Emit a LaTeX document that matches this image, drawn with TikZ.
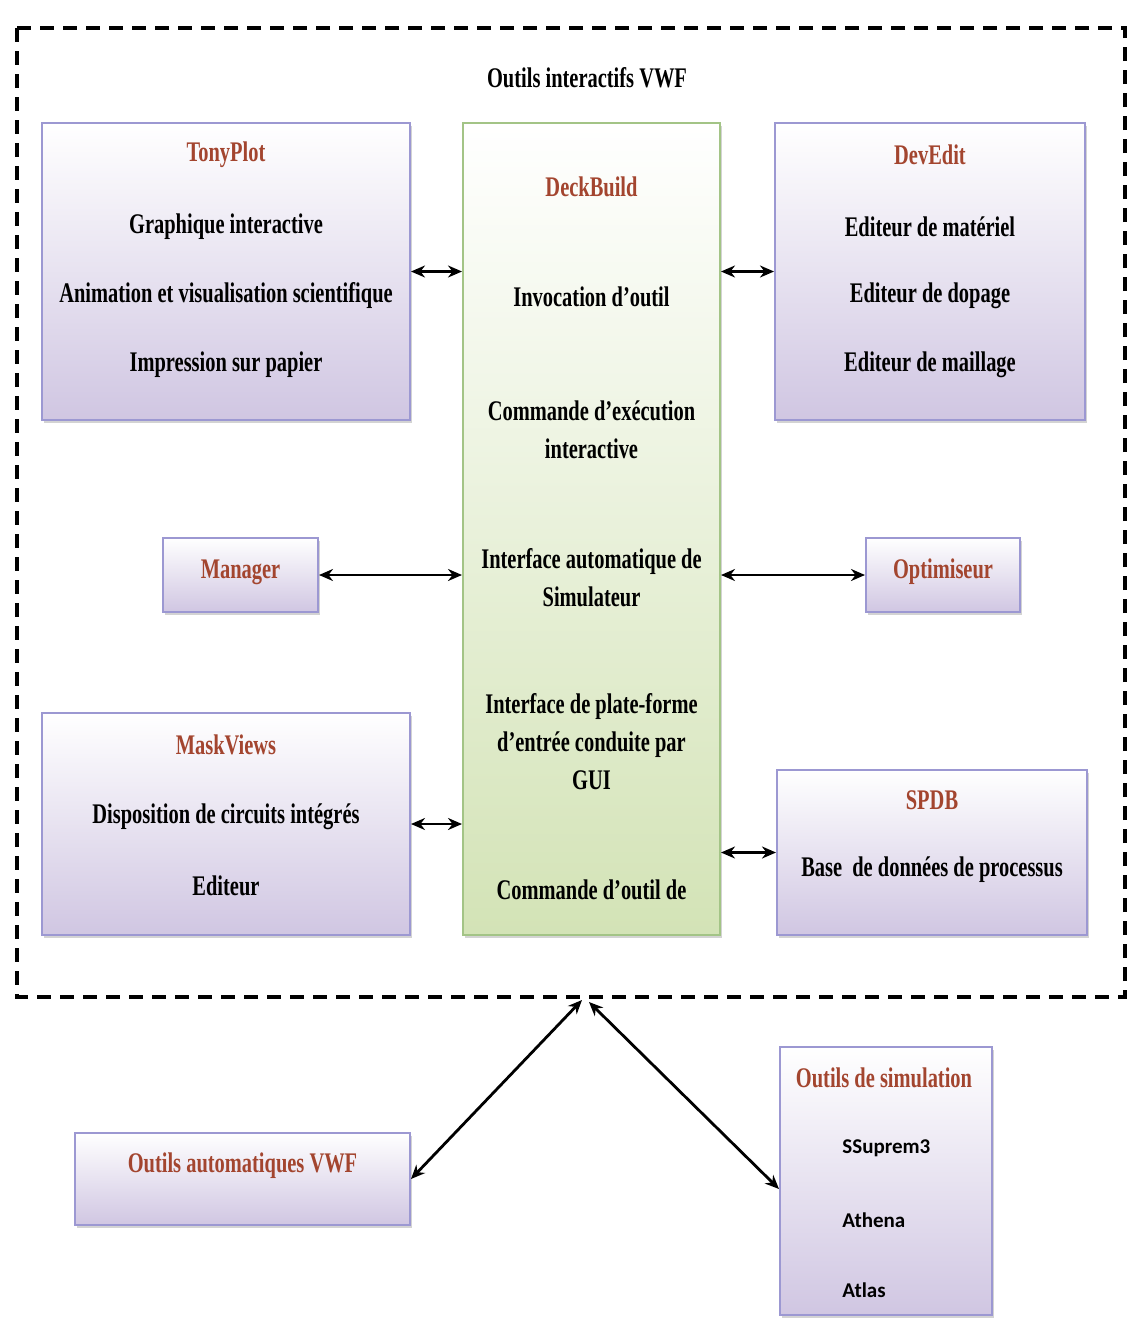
\documentclass[tikz,border=0pt]{standalone}
\usepackage{fontspec}
\setmainfont{Liberation Serif}
\newfontfamily\cond{Liberation Serif}[FakeStretch=0.72]
\newfontfamily\calib{Carlito}
\usetikzlibrary{shadows,arrows.meta}
\definecolor{pbot}{HTML}{D0C6E2}
\definecolor{pborder}{HTML}{9C98D2}
\definecolor{gbot}{HTML}{D3E3B6}
\definecolor{gborder}{HTML}{A3C486}
\definecolor{ttl}{HTML}{A3452F}
\tikzset{
  pbox/.style={rectangle, draw=pborder, line width=1pt, top color=white, bottom color=pbot,
    drop shadow={shadow xshift=0.8pt, shadow yshift=-1.5pt, opacity=0.35}},
  gbox/.style={rectangle, draw=gborder, line width=1pt, top color=white, bottom color=gbot,
    drop shadow={shadow xshift=0.8pt, shadow yshift=-1.5pt, opacity=0.35}},
  txt/.style={font=\cond\bfseries\fontsize{14.2}{19}\selectfont, text=black, align=center, inner sep=0pt},
  ttxt/.style={font=\cond\bfseries\fontsize{14.2}{19}\selectfont, text=ttl, align=center, inner sep=0pt},
  stxt/.style={font=\calib\bfseries\fontsize{10.5}{12}\selectfont, text=black, anchor=west, inner sep=0pt},
  link/.style={{Stealth[length=7pt,width=6pt]}-{Stealth[length=7pt,width=6pt]}, line width=1.4pt, black},
  frame/.style={draw=black, line width=1.6pt, dash pattern=on 7pt off 4.5pt}
}
\begin{document}
\begin{tikzpicture}[x=0.5pt, y=-0.5pt]
\useasboundingbox (0,0) rectangle (1129,1318);
\draw[frame] (17,28) rectangle (1125,997);
\node[txt] (title) at (587,78) {Outils interactifs VWF};

% boxes
\node[pbox, minimum width=184pt, minimum height=148.5pt] (tony) at (226,271.5) {};
\node[gbox, minimum width=128.5pt, minimum height=406pt] (deck) at (591.5,529) {};
\node[pbox, minimum width=155pt, minimum height=148.5pt] (dev) at (930,271.5) {};
\node[pbox, minimum width=77.5pt, minimum height=37pt] (man) at (240.5,575) {};
\node[pbox, minimum width=77pt, minimum height=37pt] (opt) at (943,575) {};
\node[pbox, minimum width=184pt, minimum height=111pt] (mask) at (226,824) {};
\node[pbox, minimum width=155pt, minimum height=82.5pt] (spdb) at (932,852.5) {};
\node[pbox, minimum width=167.5pt, minimum height=46pt] (auto) at (242.5,1179) {};
\node[pbox, minimum width=106pt, minimum height=134pt] (sim) at (886,1181) {};

% TonyPlot
\node[ttxt] (tonyT) at (226,155) {TonyPlot};
\node[txt] (tony1) at (226,227) {Graphique interactive};
\node[txt] (tony2) at (226,296) {Animation et visualisation scientifique};
\node[txt] (tony3) at (226,365) {Impression sur papier};
% DeckBuild
\node[ttxt] (deckT) at (591.5,187) {DeckBuild};
\node[txt] (deck1) at (591.5,297) {Invocation d’outil};
\node[txt] (deck2) at (591.5,430) {Commande d’exécution\\interactive};
\node[txt] (deck3) at (591.5,578) {Interface automatique de\\Simulateur};
\node[txt] (deck4) at (591.5,742) {Interface de plate-forme\\d’entrée conduite par\\GUI};
\node[txt] (deck5) at (591.5,890) {Commande d’outil de};
% DevEdit
\node[ttxt] (devT) at (930,155) {DevEdit};
\node[txt] (dev1) at (930,227) {Editeur de matériel};
\node[txt] (dev2) at (930,296) {Editeur de dopage};
\node[txt] (dev3) at (930,365) {Editeur de maillage};
% Manager / Optimiseur
\node[ttxt] (manT) at (240.5,572) {Manager};
\node[ttxt] (optT) at (943,572) {Optimiseur};
% MaskViews
\node[ttxt] (maskT) at (226,745) {MaskViews};
\node[txt] (mask1) at (226,817) {Disposition de circuits intégrés};
\node[txt] (mask2) at (226,886) {Editeur};
% SPDB
\node[ttxt] (spdbT) at (932,800) {SPDB};
\node[txt] (spdb1) at (932,870) {Base\ \ de données de processus};
% bottom
\node[ttxt] (autoT) at (242.5,1166) {Outils automatiques VWF};
\node[ttxt] (simT) at (884,1078) {Outils de simulation};
\node[stxt] (sim1) at (842,1148) {SSuprem3};
\node[stxt] (sim2) at (842,1220) {Athena};
\node[stxt] (sim3) at (842,1290) {Atlas};

% connectors
\draw[link] (tony.east) -- (tony.east -| deck.west);
\draw[link] (deck.east |- dev.west) -- (dev.west);
\draw[link] (man.east) -- (man.east -| deck.west);
\draw[link] (deck.east |- opt.west) -- (opt.west);
\draw[link] (mask.east) -- (mask.east -| deck.west);
\draw[link] (deck.east |- spdb.west) -- (spdb.west);
\coordinate (apexL) at (582,1000);
\coordinate (apexR) at (589,1002);
\draw[link] (auto.east) -- (apexL);
\draw[link] (apexR) -- ([yshift=-4pt]sim.west);
\end{tikzpicture}
\end{document}
